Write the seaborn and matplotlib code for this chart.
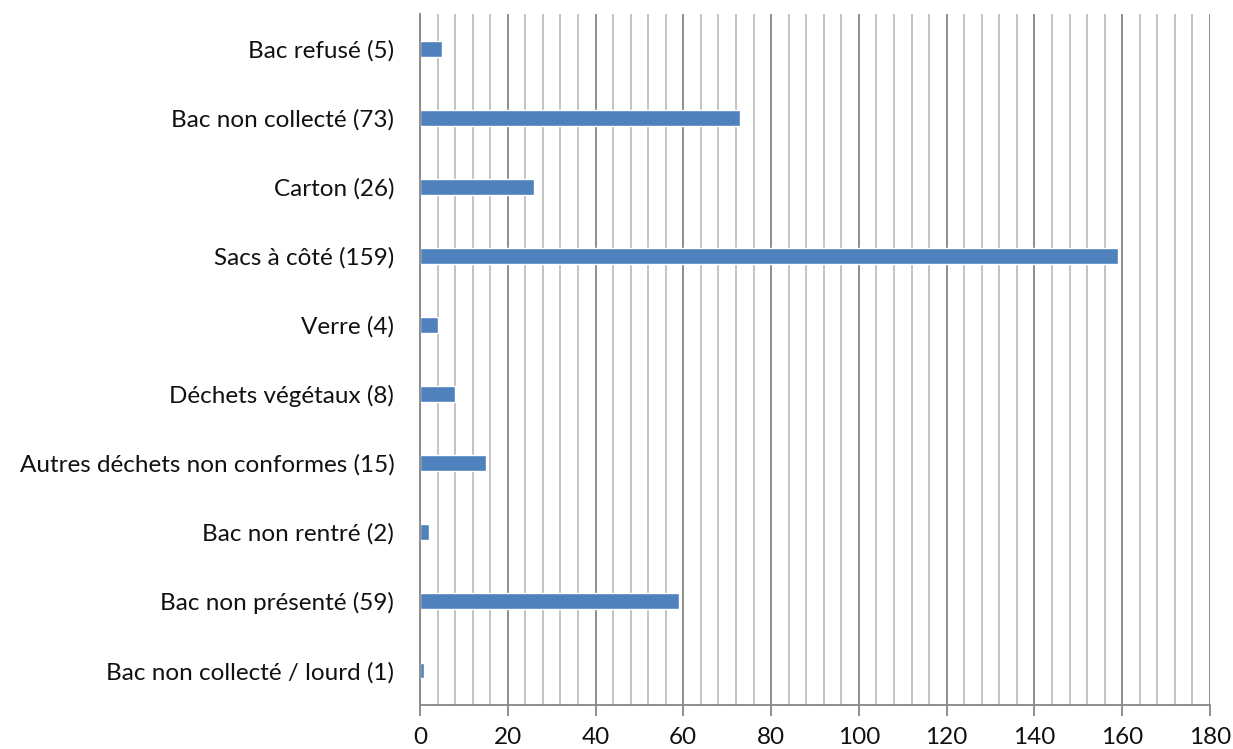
import matplotlib
matplotlib.use("Agg")
import matplotlib.pyplot as plt
import seaborn as sns
import pandas as pd
from matplotlib.ticker import MultipleLocator

# data (top to bottom)
categories = ["Bac refusé (5)", "Bac non collecté (73)", "Carton (26)",
              "Sacs à côté (159)", "Verre (4)", "Déchets végétaux (8)",
              "Autres déchets non conformes (15)", "Bac non rentré (2)",
              "Bac non présenté (59)", "Bac non collecté / lourd (1)"]
counts = [5, 73, 26, 159, 4, 8, 15, 2, 59, 1]

df = pd.DataFrame({"cat": categories, "n": counts})

sns.set_style("white")
plt.rcParams["font.family"] = ["Lato", "DejaVu Sans"]

fig = plt.figure(figsize=(12.33, 7.49), dpi=100)
ax = fig.add_axes([0.3406, 0.0587, 0.6407, 0.9226])

sns.barplot(data=df, x="n", y="cat", orient="h", color="#4F81BD",
            saturation=1, width=0.23, ax=ax)

ax.set_xlim(0, 180)
ax.xaxis.set_major_locator(MultipleLocator(20))
ax.xaxis.set_minor_locator(MultipleLocator(4))
ax.grid(which="minor", axis="x", color="#BFBFBF", linewidth=1.3)
ax.grid(which="major", axis="x", color="#868686", linewidth=1.3)
ax.set_axisbelow(True)

for s in ["top", "right"]:
    ax.spines[s].set_visible(False)
ax.spines["left"].set_color("#868686")
ax.spines["bottom"].set_color("#868686")
ax.spines["left"].set_linewidth(1.3)
ax.spines["bottom"].set_linewidth(1.3)

ax.tick_params(axis="x", which="major", bottom=True, length=8, width=1.3,
               color="#868686", labelsize=17.5, pad=8, labelcolor="#111111")
ax.tick_params(axis="x", which="minor", bottom=False)
ax.tick_params(axis="y", left=False, labelsize=17.5, pad=15, labelcolor="#111111")
ax.set_xlabel("")
ax.set_ylabel("")

fig.savefig("out.png", dpi=100)
